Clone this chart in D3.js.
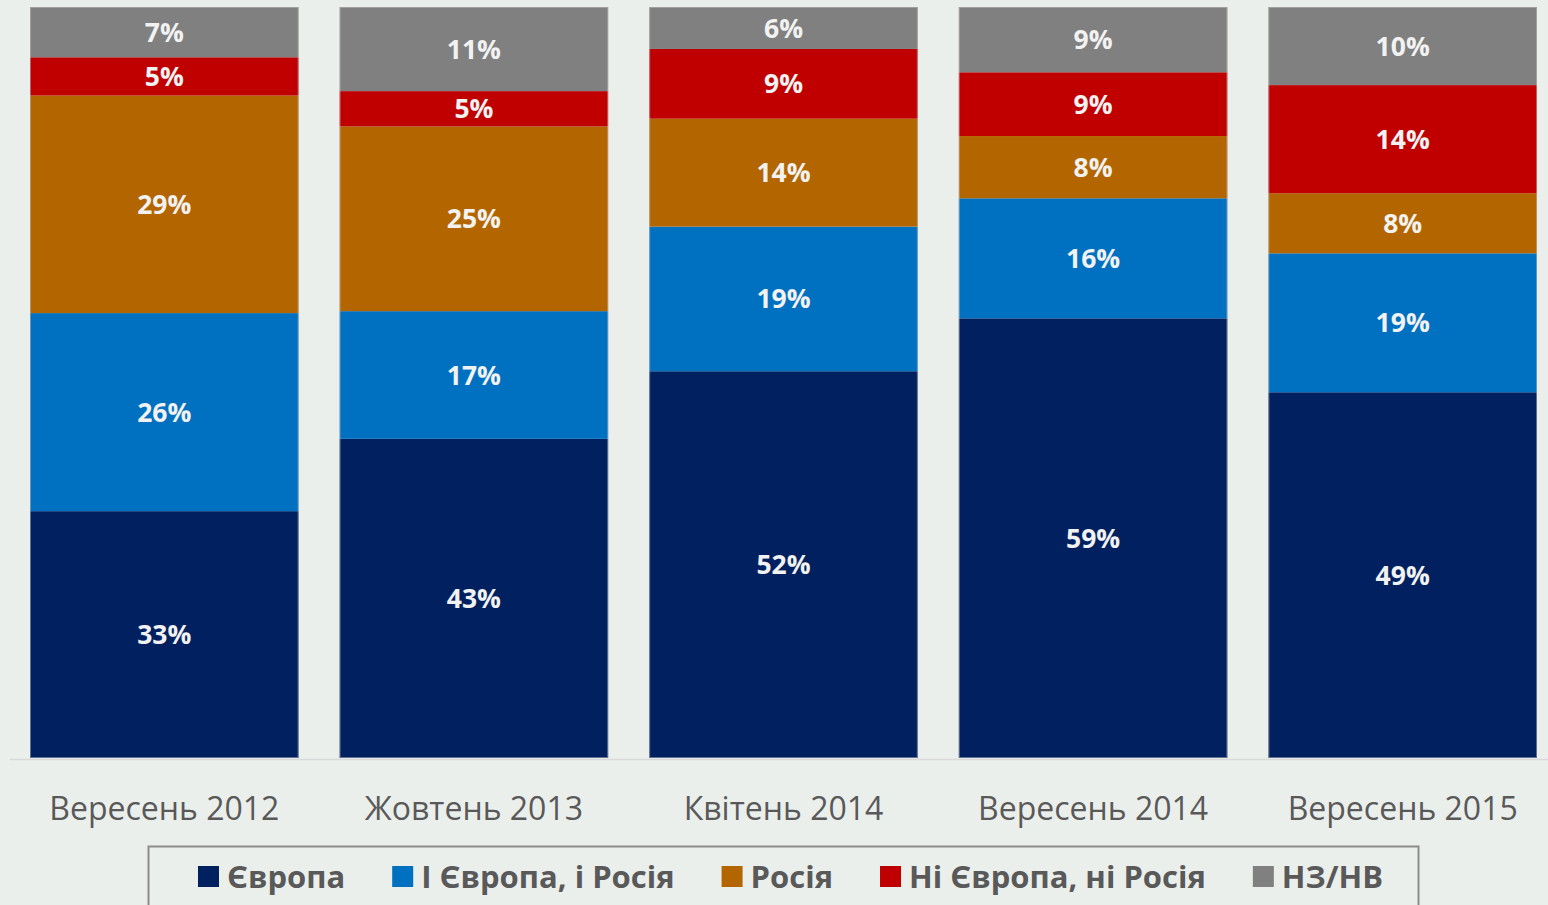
<!DOCTYPE html>
<html><head><meta charset="utf-8">
<script src="https://cdn.jsdelivr.net/npm/d3@7"></script>
<style>
html,body{margin:0;padding:0;background:#EBEFEC;}
svg{display:block;}
</style></head>
<body>
<svg id="chart" width="1548" height="905"></svg>
<script>
const categories = ["Вересень 2012","Жовтень 2013","Квітень 2014","Вересень 2014","Вересень 2015"];
const seriesNames = ["Європа","І Європа, і Росія","Росія","Ні Європа, ні Росія","НЗ/НВ"];
// values (labels show rounded percentages)
const europe =      [32.9, 42.5, 51.6, 58.6, 48.7];
const both =        [26.4, 17.0, 19.3, 16.0, 18.5];
const russia =      [29.0, 24.6, 14.4,  8.3,  8.0];
const neither =     [ 5.1,  4.7,  9.3,  8.5, 14.4];
const dontKnow =    [ 6.7, 11.2,  5.6,  8.7, 10.4];
const colors = ["#002060","#0070C0","#B36600","#C00000","#808080"];

const seriesValues = [europe, both, russia, neither, dontKnow];
const table = categories.map((c,i)=>{
  const row = {cat:c};
  seriesNames.forEach((s,j)=>row[s]=seriesValues[j][i]);
  return row;
});

const svg = d3.select("#chart");
const font = "'Open Sans', sans-serif";

const x = d3.scaleBand().domain(categories).range([9.5,1557.5]).paddingInner(0.1325).paddingOuter(0.06625);
const y = d3.scaleLinear().domain([0,1]).range([758,7]);

const stack = d3.stack().keys(seriesNames).offset(d3.stackOffsetExpand);
const stacked = stack(table);

const layers = svg.append("g").selectAll("g").data(stacked).join("g")
  .attr("fill",(d,i)=>colors[i]);

layers.selectAll("rect").data(d=>d).join("rect")
  .attr("x",d=>x(d.data.cat))
  .attr("width",x.bandwidth())
  .attr("y",d=>y(d[1]))
  .attr("height",d=>y(d[0])-y(d[1]));

// thin light outline around each full bar
svg.append("g").selectAll("rect").data(categories).join("rect")
  .attr("x",d=>x(d)+0.5).attr("width",x.bandwidth()-1)
  .attr("y",y(1)+0.5).attr("height",y(0)-y(1)-1)
  .attr("fill","none").attr("stroke","#BFBFBF").attr("stroke-opacity",0.5).attr("stroke-width",1);

layers.each(function(layer){
  d3.select(this).selectAll("text").data(layer).join("text")
    .attr("x",d=>x(d.data.cat)+x.bandwidth()/2)
    .attr("y",d=>(y(d[0])+y(d[1]))/2)
    .attr("dy","0.36em")
    .attr("text-anchor","middle")
    .attr("fill","#F2F2F2")
    .style("font-family",font)
    .style("font-weight","bold")
    .style("font-size","26.5px")
    .text(d=>Math.round(d.data[layer.key])+"%");
});

// axis line
svg.append("line").attr("x1",10).attr("x2",1548).attr("y1",759.5).attr("y2",759.5)
  .attr("stroke","#D9D9D9").attr("stroke-width",1.5);

// category axis
const xAxis = d3.axisBottom(x).tickSize(0).tickPadding(0);
const gx = svg.append("g").attr("transform","translate(0,797)").call(xAxis);
gx.select(".domain").remove();
gx.selectAll("text")
  .attr("dy","0.71em")
  .attr("fill","#595959")
  .style("font-family",font)
  .style("font-size","32px");

// legend
svg.append("rect").attr("x",148.5).attr("y",846.5).attr("width",1270).attr("height",80)
  .attr("fill","none").attr("stroke","#8C8C8C").attr("stroke-width",2);

const lg = svg.append("g");
const items = lg.selectAll("g").data(seriesNames).join("g");
items.append("rect").attr("width",21).attr("height",21).attr("y",-10.5)
  .attr("fill",(d,i)=>colors[i]);
items.append("text").attr("x",29).attr("dy","0.36em")
  .attr("fill","#595959")
  .style("font-family",font).style("font-weight","bold").style("font-size","31px")
  .text(d=>d);
let pos = 0;
const offsets = [];
items.each(function(d){
  const w = d3.select(this).select("text").node().getComputedTextLength();
  offsets.push(pos);
  pos += 29 + w + 47;
});
const total = pos - 47;
const start = 790.5 - total/2;
items.attr("transform",(d,i)=>`translate(${start+offsets[i]},876.5)`);
</script>
</body></html>
